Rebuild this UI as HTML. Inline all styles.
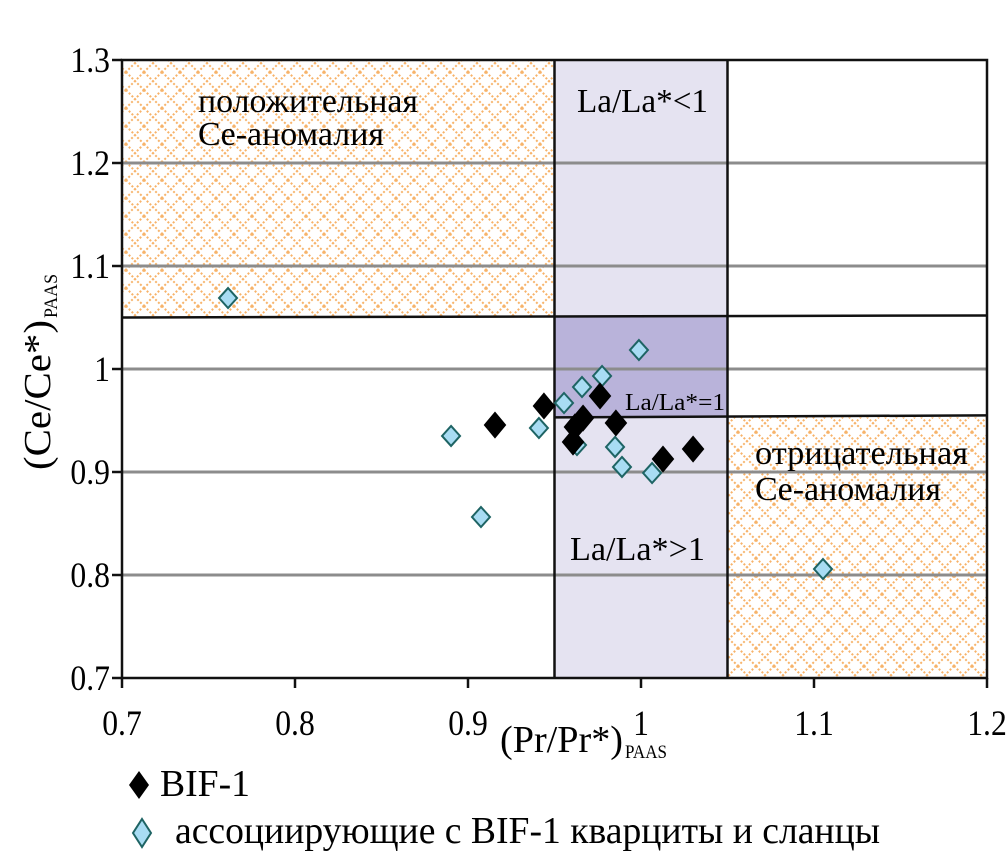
<!DOCTYPE html>
<html><head><meta charset="utf-8"><style>
body{margin:0;background:#fff}
svg{display:block;font-family:"Liberation Serif",serif}
</style></head><body>
<svg id="c" width="1008" height="866" viewBox="0 0 1008 866">
<defs>
<pattern id="hatch" width="18" height="18" patternUnits="userSpaceOnUse">
<path d="M0 0 L18 18 M18 0 L0 18" stroke="#f7b36a" stroke-width="2" stroke-dasharray="2 2" fill="none"/>
</pattern>
</defs>
<g id="regions"></g>
<g id="grid"></g>
<g id="lines"></g>
<g id="axes"></g>
<g id="marks"></g>
</svg>
<script>
const xTicks=[0.7,0.8,0.9,1,1.1,1.2];
const yTicks=[0.7,0.8,0.9,1,1.1,1.2,1.3];
const bifX=[0.9156,0.9439,0.9763,0.9665,0.9618,0.9607,0.9855,1.0127,1.0301];
const bifY=[0.9456,0.9641,0.9738,0.9524,0.9437,0.9291,0.9476,0.9126,0.9223];
const assocX=[0.8902,0.9410,0.9555,0.9659,0.9775,0.9988,0.9850,0.9890,1.0064,0.9075,0.9630,0.7613,1.1052];
const assocY=[0.9350,0.9427,0.9670,0.9825,0.9932,1.0184,0.9243,0.9049,0.8990,0.8563,0.9262,1.0689,0.8058];
const X0=122,X1=987,Y0=678,Y1=60;
const sx=v=>X0+(v-0.7)/0.5*(X1-X0);
const sy=v=>Y0-(v-0.7)/0.6*(Y0-Y1);
const NS="http://www.w3.org/2000/svg";
function mk(parent,tag,attrs,text){const e=document.createElementNS(NS,tag);for(const k in attrs)e.setAttribute(k,attrs[k]);if(text!==undefined)e.textContent=text;document.getElementById(parent).appendChild(e);return e;}
let r;
r=mk('regions','rect',{x:sx(0.7),y:sy(1.3),width:sx(0.95)-sx(0.7),height:sy(1.05)-sy(1.3),fill:'url(#hatch)'});


r=mk('regions','rect',{x:sx(0.95),y:sy(1.3),width:sx(1.05)-sx(0.95),height:Y0-Y1,fill:'#e5e3f1'});


r=mk('regions','rect',{x:sx(0.95),y:sy(1.05),width:sx(1.05)-sx(0.95),height:sy(0.953)-sy(1.05),fill:'#b9b3da'});


r=mk('regions','rect',{x:sx(1.05),y:sy(0.953),width:X1-sx(1.05),height:Y0-sy(0.953),fill:'url(#hatch)'});


yTicks.forEach(t=>{if(t>0.7&&t<1.3){const l=mk('grid','line',{x1:X0,x2:X1,y1:sy(t),y2:sy(t),stroke:'#8c8c8c','stroke-width':3});

}});
[[sx(0.95),sy(1.3),sx(0.95),Y0],[sx(1.05),sy(1.3),sx(1.05),Y0],[X0,sy(1.05),X1,sy(1.052)],[sx(0.95),sy(0.953),X1,sy(0.955)]].forEach(a=>{const l=mk('lines','line',{x1:a[0],y1:a[1],x2:a[2],y2:a[3],stroke:'#111','stroke-width':2.5});

});
let b=mk('axes','rect',{x:X0,y:Y1,width:X1-X0,height:Y0-Y1,fill:'none',stroke:'#111','stroke-width':2.5});


xTicks.forEach(t=>{mk('axes','line',{x1:sx(t),x2:sx(t),y1:Y0,y2:Y0+10,stroke:'#111','stroke-width':2.5});
const tx=mk('axes','text',{x:sx(t),y:Y0+57,'font-size':36,'text-anchor':'middle',transform:`translate(${sx(t)},0) scale(0.88,1) translate(${-sx(t)},0)`},String(t));

});
yTicks.forEach(t=>{mk('axes','line',{x1:X0-10,x2:X0,y1:sy(t),y2:sy(t),stroke:'#111','stroke-width':2.5});
const tx=mk('axes','text',{x:110,y:sy(t)+12,'font-size':36,'text-anchor':'end',transform:'translate(110,0) scale(0.88,1) translate(-110,0)'},String(t));

});
function diamond(g,cx,cy,fill,stroke,w,h){return mk(g,'path',{d:`M${cx} ${cy-h} L${cx+w} ${cy} L${cx} ${cy+h} L${cx-w} ${cy} Z`,fill:fill,stroke:stroke,'stroke-width':2});}
assocX.forEach((v,i)=>{const d=diamond('marks',sx(v),sy(assocY[i]),'#a8dcf3','#1e6464',9,10);

});
bifX.forEach((v,i)=>{const d=diamond('marks',sx(v),sy(bifY[i]),'#000','#000',10,12);

});
</script>
<svg width="1008" height="866" style="position:absolute;left:0;top:0;font-family:'Liberation Serif',serif">
<text x="198" y="112" font-size="34" textLength="220" lengthAdjust="spacingAndGlyphs">положительная</text>
<text x="198" y="145" font-size="34" textLength="186" lengthAdjust="spacingAndGlyphs">Ce-аномалия</text>
<text x="577" y="112" font-size="34" textLength="131" lengthAdjust="spacingAndGlyphs">La/La*&lt;1</text>
<text x="625" y="410" font-size="24" textLength="100" lengthAdjust="spacingAndGlyphs">La/La*=1</text>
<text x="570" y="560" font-size="34" textLength="135" lengthAdjust="spacingAndGlyphs">La/La*&gt;1</text>
<text x="755" y="464" font-size="34" textLength="213" lengthAdjust="spacingAndGlyphs">отрицательная</text>
<text x="755" y="500" font-size="34" textLength="186" lengthAdjust="spacingAndGlyphs">Ce-аномалия</text>
<text x="500" y="752" font-size="38" textLength="123" lengthAdjust="spacingAndGlyphs">(Pr/Pr*)</text>
<text x="625" y="758" font-size="19" textLength="42" lengthAdjust="spacingAndGlyphs">PAAS</text>
<text transform="translate(50,470) rotate(-90)" font-size="38" textLength="150" lengthAdjust="spacingAndGlyphs">(Ce/Ce*)</text>
<text transform="translate(57,318) rotate(-90)" font-size="19" textLength="44" lengthAdjust="spacingAndGlyphs">PAAS</text>
<text x="160" y="796" font-size="38" textLength="90" lengthAdjust="spacingAndGlyphs">BIF-1</text>
<text x="175" y="843" font-size="38" textLength="705" lengthAdjust="spacingAndGlyphs">ассоциирующие с BIF-1 кварциты и сланцы</text>
<path d="M139 771 L149 785 L139 799 L129 785 Z" fill="#000"/>
<path d="M142 819 L151 833 L142 847 L133 833 Z" fill="#a8dcf3" stroke="#1e6464" stroke-width="2"/>
</svg>
</body></html>
